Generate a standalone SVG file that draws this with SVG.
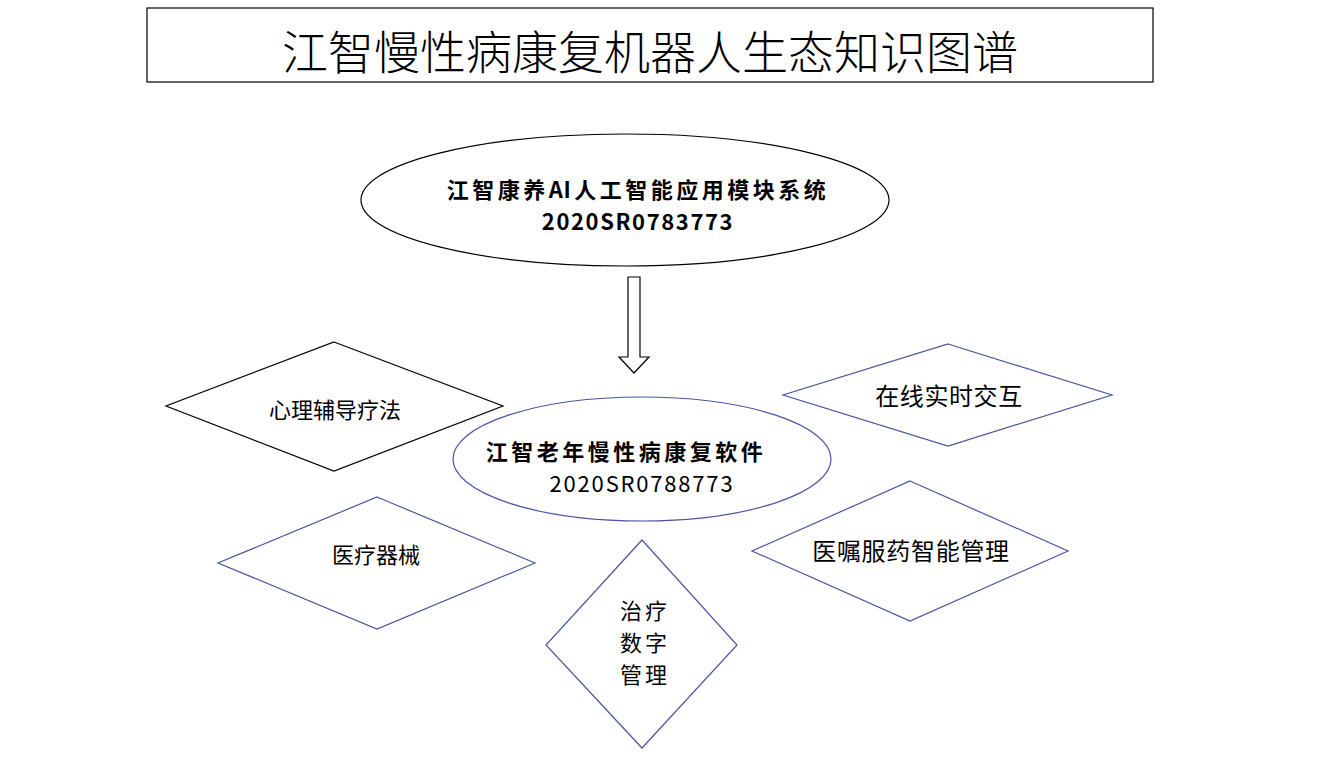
<svg xmlns="http://www.w3.org/2000/svg" width="1331" height="770" viewBox="0 0 1331 770">
<style>
.bk{fill:#fff;stroke:#000;stroke-width:1.2}
.bl{fill:#fff;stroke:#4a55a0;stroke-width:1.2}
text{font-family:"Noto Sans CJK SC","Noto Sans",sans-serif;fill:#000;text-anchor:middle}
.t{font-size:46px;font-weight:300}
.b{font-size:22px;font-weight:bold;letter-spacing:3.5px}
.d{font-size:22px}
.d2{font-size:24px}
.v{font-size:22px;letter-spacing:3px}
</style>
<rect width="1331" height="770" fill="#fff"/>
<g id="title">
<rect class="bk" x="147" y="8" width="1006" height="74"/>
<text class="t" x="650" y="69">江智慢性病康复机器人生态知识图谱</text>
</g>
<g id="top-system">
<ellipse class="bk" cx="625" cy="200" rx="264" ry="66"/>
<text class="b" x="638" y="198">江智康养<tspan style="letter-spacing:0.5px">A</tspan>I人工智能应用模块系统<tspan x="638" dy="32" style="letter-spacing:1.6px">2020SR0783773</tspan></text>
</g>
<g id="connectors">
<polygon class="bk" points="628,277 640,277 640,357 649,357 634,373 619,357 628,357"/>
</g>
<g id="center-software">
<ellipse class="bl" cx="642" cy="459" rx="189" ry="62"/>
<text class="b" x="626" y="460" style="letter-spacing:3.5px">江智老年慢性病康复软件<tspan x="642" dy="32" style="font-weight:normal;letter-spacing:1.8px">2020SR0788773</tspan></text>
</g>
<g id="psych">
<polygon class="bk" points="334,342 503,406 334,471 166,406"/>
<text class="d" x="335" y="418">心理辅导疗法</text>
</g>
<g id="device">
<polygon class="bl" points="377,497 535,563 377,629 218,563"/>
<text class="d" x="376" y="563">医疗器械</text>
</g>
<g id="online">
<polygon class="bl" points="948,344 1112,395 948,446 783,395"/>
<text class="d2" x="949" y="405" style="letter-spacing:0.6px">在线实时交互</text>
</g>
<g id="medication">
<polygon class="bl" points="910,481 1068,551 910,621 752,551"/>
<text class="d2" x="911" y="560" style="letter-spacing:0.7px">医嘱服药智能管理</text>
</g>
<g id="therapy">
<polygon class="bl" points="642,540 737,645 642,748 546,645"/>
<text class="v" x="645" y="619">治疗<tspan x="645" dy="32">数字</tspan><tspan x="645" dy="32">管理</tspan></text>
</g>
</svg>
